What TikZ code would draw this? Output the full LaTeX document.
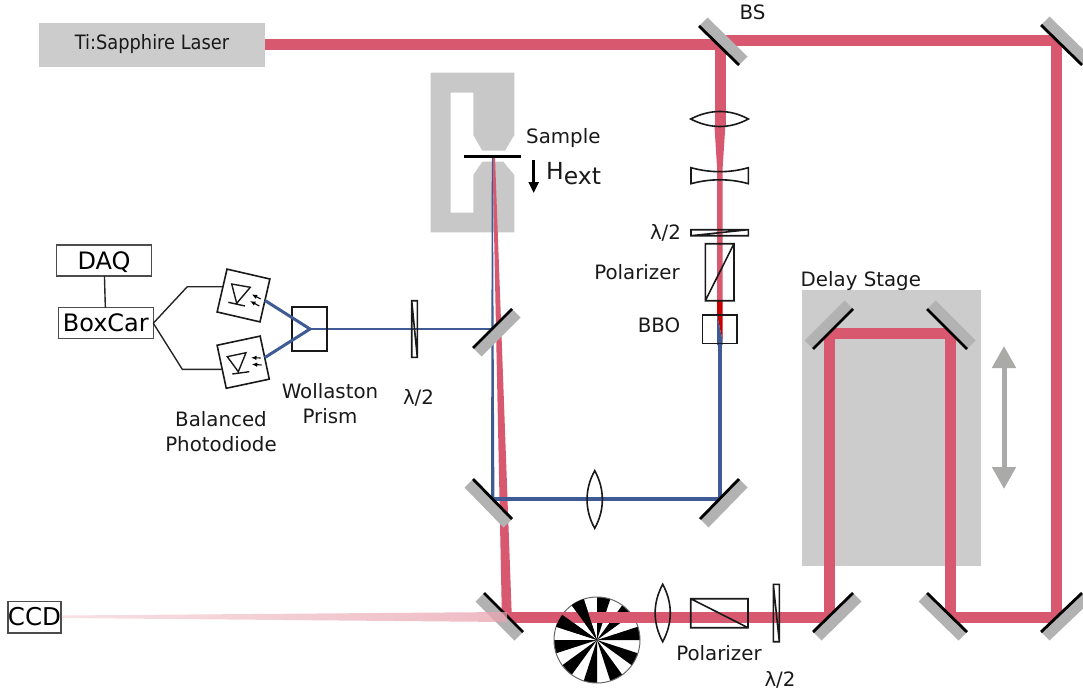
\documentclass[tikz,border=0pt]{standalone}
\usepackage{fontspec}
\usepackage{graphicx}
\setmainfont{DejaVu Sans}
\usetikzlibrary{arrows.meta,calc}
\definecolor{beamred}{HTML}{D8586F}
\definecolor{beamblue}{HTML}{3F5A94}
\definecolor{deepred}{HTML}{C80000}
\definecolor{stagegrey}{HTML}{CCCCCC}
\definecolor{mountgrey}{HTML}{C8C8C8}
\definecolor{mirrorgrey}{HTML}{B2B2B2}
\definecolor{movegrey}{HTML}{AAABA8}
\tikzset{
  redbeam/.style={draw=beamred,line width=11pt,line join=miter},
  bluebeam/.style={draw=beamblue,line width=4.6pt,line join=miter},
  lab/.style={inner sep=0pt,anchor=base,font=\fontsize{19.8}{24}\selectfont,text=black!90},
  labw/.style={lab,anchor=base west},
  boxed/.style={draw=black!70,line width=1.3pt,inner sep=0pt,outer sep=0pt,text=black,font=\fontsize{24}{28}\selectfont,text depth=7pt,text height=24pt,align=center},
  optic/.style={draw=black!90,line width=1.6pt,line join=miter},
  wire/.style={draw=black!85,line width=1.4pt},
  detector/.style={draw=black!90,line width=1.6pt,minimum size=44pt,inner sep=0pt,outer sep=0pt,fill=white},
  mline/.style={draw=black,line width=2.8pt},
  diode/.style={draw=black!90,line width=1.4pt},
  tiny arrow/.style={draw=black,line width=1.1pt,-{Latex[length=5.5pt,width=4.5pt]}},
}
\newcommand{\mirrorat}[7]{%
  \coordinate (#1-a) at (#2,#3);
  \coordinate (#1-b) at (#4,#5);
  \fill[mirrorgrey] (#1-a) -- (#1-b) -- ($(#1-b)+(#6,#7)$) -- ($(#1-a)+(#6,#7)$) -- cycle;
  \draw[mline] (#1-a) -- (#1-b);
}
\newcommand{\sector}[2]{\fill[black] (0,0) -- (#1:43) arc (#1:#2:43) -- cycle;}
\begin{document}
\begin{tikzpicture}[x=1pt,y=-1pt]
\useasboundingbox (0,0) rectangle (1083,693);

% stage and laser
\fill[stagegrey] (801.7,290) rectangle (980.7,566);
\node[fill=stagegrey,minimum width=226pt,minimum height=44pt,inner sep=0pt,outer sep=0pt] (laser) at (152,45) {};
\node[lab] (lasertxt) at (152,50) {\scalebox{.9}[1]{Ti:Sapphire Laser}};

% sample mount
\fill[mountgrey,even odd rule] (430.7,72.7) -- (514.3,72.7) -- (514.3,135) -- (505,150.7) -- (482.3,150.7) -- (473.3,135)
  -- (473.3,92.7) -- (450.7,92.7) -- (450.7,212.7) -- (473.3,212.7) -- (473.3,175) -- (482.3,161.7) -- (503.3,161.7)
  -- (514.3,175) -- (514.3,232.3) -- (430.7,232.3) -- cycle;

% chopper disc (below the beam)
\begin{scope}[shift={(597,640)},y=1pt]
  \fill[white] (0,0) circle[radius=43];
  \sector{72}{90}\sector{36}{54}\sector{0}{18}\sector{-36}{-18}\sector{-72}{-54}
  \sector{-108}{-90}\sector{-144}{-126}\sector{-180}{-162}\sector{144}{162}\sector{108}{126}
  \draw[black!60,line width=1pt] (0,0) circle[radius=43];
\end{scope}

% beam joints
\coordinate (j1) at (720,45);
\coordinate (j1b) at (720,127);
\coordinate (t1) at (722,41);
\coordinate (t2) at (1056.5,41);
\coordinate (t3) at (1056.5,617);
\coordinate (t4) at (950.5,617);
\coordinate (t5) at (950.5,333);
\coordinate (t6) at (829.5,333);
\coordinate (t7) at (829.5,617);
\coordinate (t8) at (507,617);
\coordinate (apex) at (310,329);
\coordinate (b1) at (720.2,340);
\coordinate (b2) at (720.2,499);
\coordinate (b3) at (493,499);
\coordinate (b4) at (492.5,329);

% red beams
\draw[redbeam] (laser.east |- j1) -- (j1) -- (j1b);
\draw[redbeam] (t1) -- (t2) -- (t3) -- (t4) -- (t5) -- (t6) -- (t7) -- (t8);
\fill[beamred] (714.4,125) -- (725.4,125) -- (722.5,170) -- (722.5,301) -- (717.2,301) -- (717.2,170) -- cycle;
\fill[deepred] (717.2,300) -- (722.5,300) -- (722.5,340) -- (717.2,316) -- cycle;
\fill[beamblue] (717.2,316) -- (722.5,340) -- (722.5,345) -- (717.2,345) -- cycle;
\fill[beamred] (492.5,157) -- (495,157) -- (512,622) -- (502,622) -- cycle;

% blue beams
\draw[bluebeam] (720.0,344) -- (720.0,499) -- (b3);
\fill[beamblue] (491.8,157) -- (492.8,157) -- (494.4,501) -- (491,501) -- cycle;
\draw[beamblue,line width=2.4pt] (b4) -- (apex);

% chopper blades in front of the beam on the left half
\begin{scope}[shift={(597,640)},y=1pt]
  \sector{108}{126}\sector{144}{162}
\end{scope}

% mirrors
\mirrorat{mBS}{699}{26}{739}{65}{8.5}{-8.5}
\mirrorat{mTR}{1041}{25}{1082}{65}{8.5}{-8.5}
\mirrorat{mDL}{813}{349}{853}{309}{-8.5}{-8.5}
\mirrorat{mDR}{927}{309}{967}{349}{8.5}{-8.5}
\mirrorat{mB1}{813}{632}{853}{593}{8.5}{8.5}
\mirrorat{mB2}{927}{593}{967}{632}{-8.5}{8.5}
\mirrorat{mB3}{1041}{632}{1082}{593}{8.5}{8.5}
\mirrorat{mL1}{473}{479}{512}{519}{-8.5}{8.5}
\mirrorat{mL2}{700}{519}{739}{479}{8.5}{8.5}
\mirrorat{mL3}{473}{348}{512}{309}{8.5}{8.5}
\mirrorat{mL4}{484}{593}{523}{632}{-8.5}{8.5}

% pale beam to the CCD
\shade[left color=beamred!25,right color=beamred!55,fill opacity=.75,draw=none] (62,615.5) -- (507,612) -- (507,622) -- (62,618) -- cycle;

% sample bar and field arrow
\draw[draw=black,line width=2.8pt] (464,156.7) -- (520.7,156.7);
\coordinate (h1) at (533.7,160);
\coordinate (h2) at (533.7,193);
\draw[line width=2.6pt,-{Triangle[length=11pt,width=10pt]}] (h1) -- (h2);

% movement arrow
\coordinate (m1) at (1004,346);
\coordinate (m2) at (1004,489);
\draw[draw=movegrey,line width=5pt,{Triangle[length=22pt,width=23pt]}-{Triangle[length=22pt,width=23pt]}] (m1) -- (m2);

% upper path optics
\draw[optic] (690.7,119) .. controls (710,109) and (730,109) .. (748.3,119) .. controls (730,129) and (710,129) .. cycle;
\draw[optic] (691,167.7) .. controls (710,173) and (730,173) .. (748.3,167.7) -- (748.3,183.7) .. controls (730,178.5) and (710,178.5) .. (691,183.7) -- cycle;
\draw[optic] (691,229.7) rectangle (748.3,235.7) (691,235.7) -- (748.3,229.7);
\draw[optic] (705.3,243.7) rectangle (734,300.7) (705.3,300.7) -- (734,243.7);
\draw[optic] (702.3,314.7) rectangle (737,343.3);

% lens between mirrors
\draw[optic] (594.7,470.7) .. controls (584.5,489) and (584.5,510) .. (594.7,528.3) .. controls (604.9,510) and (604.9,489) .. cycle;

% lower path optics
\draw[optic] (662.7,584.3) .. controls (652.6,603) and (652.6,623) .. (662.7,641.7) .. controls (672.8,623) and (672.8,603) .. cycle;
\draw[optic] (690.7,598.7) rectangle (748,627.7) (690.7,598.7) -- (748,627.7);
\draw[optic] (773.3,584.3) rectangle (779.3,641.7) (773.3,584.3) -- (779.3,641.7);

% detection optics
\draw[optic] (411.7,300.7) rectangle (417.3,357.3) (411.7,300.7) -- (417.3,357.3);
\draw[optic] (292,307) rectangle (327,351);

% boxes and wires
\node[boxed,minimum width=94.6pt,minimum height=31pt] (daq) at (104,260.5) {DAQ};
\node[boxed,minimum width=95pt,minimum height=31pt] (boxcar) at (105.8,323.2) {BoxCar};
\node[boxed,font=\fontsize{24.5}{28}\selectfont,minimum width=52.4pt,minimum height=31.3pt,text depth=7.3pt] (ccd) at (34.5,617.3) {CCD};
\node[detector,rotate=-13] (det1) at (243.5,295.5) {};
\node[detector,rotate=12] (det2) at (243.2,362.2) {};
\coordinate (k1) at (187.3,286.7);
\coordinate (k2) at (182.3,369.3);
\draw[wire] (daq) -- (boxcar);
\draw[wire] (boxcar.east) -- (k1) -- (k1 -| det1.west);
\draw[wire] (boxcar.east) -- (k2) -- (k2 -| det2.west);
\draw[beamblue,line width=3pt] (det1.east) -- (apex) -- (det2.east);

% photodiode symbols
\draw[diode] (231.7,284) -- (250.3,287.3) -- (236.7,303.3) -- cycle (228.3,302.3) -- (245,306);
\draw[tiny arrow] (260.7,299) -- (251.7,294.3);
\draw[tiny arrow] (259.3,306) -- (250,301);
\draw[diode] (227.3,356.7) -- (246,352.7) -- (238.3,371.7) -- cycle (232.3,374) -- (249.3,371.7);
\draw[tiny arrow] (260.7,358) -- (251,357.7);
\draw[tiny arrow] (261.7,365) -- (251.7,364.3);

% labels
\node[lab] (bs) at (752.5,20) {BS};
\node[labw] (sample) at (526,143) {Sample};
\node[labw,font=\fontsize{23.5}{26}\selectfont] (hext) at (546,179) {H\raisebox{-5.4pt}{ext}};
\node[lab] (l1) at (665.5,239) {λ/2};
\node[lab] (pol1) at (637,279) {Polarizer};
\node[lab] (bbo) at (659,332) {BBO};
\node[labw] (delay) at (800.5,286) {Delay Stage};
\node[lab] (l2) at (418.5,404) {λ/2};
\node[lab] (woll) at (330,398) {Wollaston};
\node[lab] (prism) at (330,423) {Prism};
\node[lab] (bal) at (221,426) {Balanced};
\node[lab] (pho) at (221,451) {Photodiode};
\node[lab] (pol2) at (719,660) {Polarizer};
\node[lab] (l3) at (780,686) {λ/2};
\end{tikzpicture}
\end{document}
